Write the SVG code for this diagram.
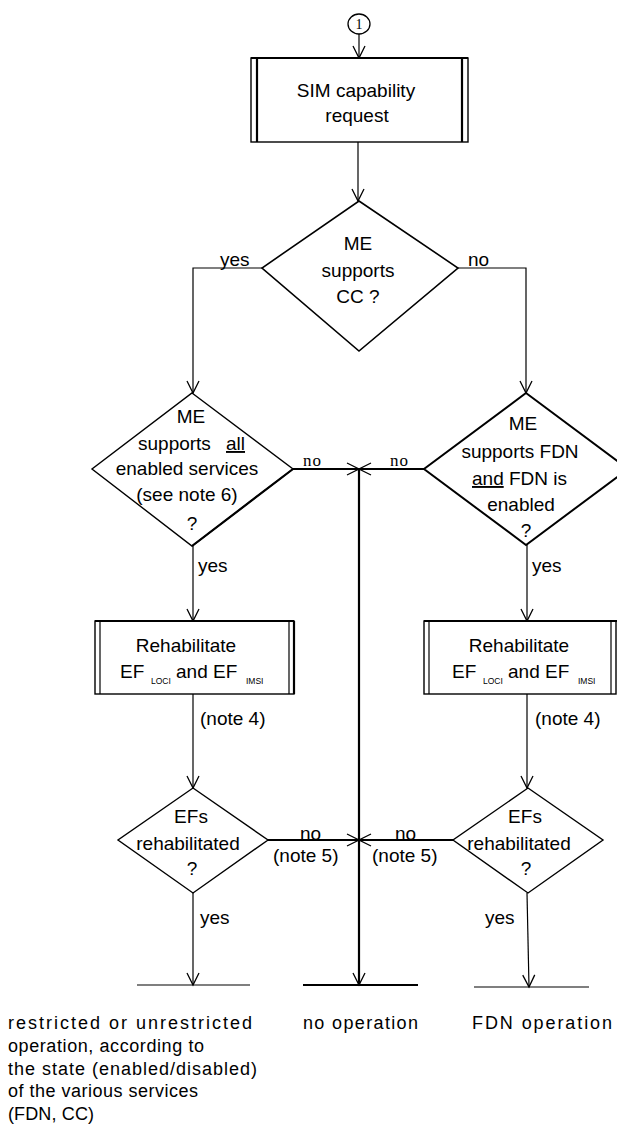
<svg xmlns="http://www.w3.org/2000/svg" width="617" height="1124" viewBox="0 0 617 1124">
<defs>
<style>
.t{font-family:"Liberation Sans",Arial,sans-serif;font-size:19px;fill:#000}
.m{text-anchor:middle}
.s{font-size:8.5px}
.serif{font-family:"Liberation Serif","Times New Roman",serif;font-size:17px;letter-spacing:1px;fill:#000}
.b{font-family:"Liberation Sans",Arial,sans-serif;font-size:18px;fill:#000}
.sh{fill:#fff;stroke:#000;stroke-width:1.4}
.ln{fill:none;stroke:#000;stroke-width:1.2}
.tk{fill:none;stroke:#000;stroke-width:2.2}
.u{text-decoration:underline}
</style>
<marker id="arr" markerWidth="16" markerHeight="16" refX="13" refY="7" orient="auto" markerUnits="userSpaceOnUse">
<path d="M1,1 L13,7 L1,13" fill="none" stroke="#000" stroke-width="1.3"/>
</marker>
</defs>
<rect width="617" height="1124" fill="#fff"/>

<g id="connectors">
<line class="ln" x1="359" y1="34" x2="359" y2="58" marker-end="url(#arr)"/>
<line class="ln" x1="358" y1="142" x2="358" y2="201" marker-end="url(#arr)"/>
<polyline class="ln" points="262,268 193,268 193,393" marker-end="url(#arr)"/>
<polyline class="ln" points="458,268 526,268 526,393" marker-end="url(#arr)"/>
<line class="tk" x1="293" y1="469" x2="359" y2="469" marker-end="url(#arr)"/>
<line class="tk" x1="424" y1="469" x2="359" y2="469" marker-end="url(#arr)"/>
<line class="tk" x1="359" y1="469" x2="359" y2="985" marker-end="url(#arr)"/>
<line class="ln" x1="193" y1="546" x2="193" y2="621" marker-end="url(#arr)"/>
<line class="ln" x1="527" y1="545" x2="527" y2="621" marker-end="url(#arr)"/>
<line class="ln" x1="193" y1="694" x2="193" y2="788" marker-end="url(#arr)"/>
<line class="ln" x1="527" y1="694" x2="527" y2="788" marker-end="url(#arr)"/>
<line class="tk" x1="268" y1="840" x2="359" y2="840" marker-end="url(#arr)"/>
<line class="tk" x1="453" y1="840" x2="359" y2="840" marker-end="url(#arr)"/>
<line class="ln" x1="193" y1="893" x2="193" y2="985" marker-end="url(#arr)"/>
<line class="ln" x1="527" y1="893" x2="529" y2="987" marker-end="url(#arr)"/>
<text class="t" x="220" y="266">yes</text>
<text class="t" x="468" y="266">no</text>
<text class="serif" x="303" y="466">no</text>
<text class="serif" x="390" y="466">no</text>
<text class="t" x="198" y="572">yes</text>
<text class="t" x="532" y="572">yes</text>
<text class="t" x="200" y="725">(note 4)</text>
<text class="t" x="535" y="725">(note 4)</text>
<text class="t" x="300" y="840">no</text>
<text class="t" x="273" y="862">(note 5)</text>
<text class="t" x="395" y="840">no</text>
<text class="t" x="372" y="862">(note 5)</text>
<text class="t" x="200" y="924">yes</text>
<text class="t" x="485" y="924">yes</text>
</g>

<g id="start">
<ellipse cx="359" cy="24" rx="11" ry="10" fill="#fff" stroke="#000" stroke-width="1.3"/>
<text x="359" y="29" text-anchor="middle" font-family="Liberation Serif,serif" font-size="14">1</text>
</g>

<g id="sim-request">
<rect x="251" y="58" width="217" height="84" class="sh"/>
<line class="tk" x1="257" y1="58" x2="257" y2="142"/>
<line class="tk" x1="462" y1="58" x2="462" y2="142"/>
<line class="tk" x1="251" y1="58" x2="468" y2="58"/>
<text class="t m" x="356" y="97">SIM capability</text>
<text class="t m" x="357" y="122">request</text>
</g>

<g id="me-cc">
<polygon class="sh" points="359,201 458,268 359,351 262,268" style="stroke-width:1.6"/>
<text class="t m" x="358" y="250">ME</text>
<text class="t m" x="358" y="277">supports</text>
<text class="t m" x="358" y="303">CC ?</text>
</g>

<g id="me-all">
<polygon class="sh" points="192,393 293,469 192,546 92,469"/>
<line class="tk" x1="293" y1="469" x2="192" y2="546"/>
<text class="t m" x="191" y="423">ME</text>
<text class="t" x="138" y="450">supports</text>
<text class="t u" x="226" y="450">all</text>
<text class="t m" x="187" y="475">enabled services</text>
<text class="t m" x="187" y="501">(see note 6)</text>
<text class="t m" x="192" y="530">?</text>
</g>

<g id="me-fdn">
<polygon class="sh" points="526,393 628,469 526,545 424,469" style="stroke-width:2"/>
<text class="t m" x="523" y="430">ME</text>
<text class="t m" x="520" y="458">supports FDN</text>
<text class="t u" x="472" y="485">and</text>
<text class="t" x="509" y="485">FDN is</text>
<text class="t m" x="521" y="511">enabled</text>
<text class="t m" x="526" y="537">?</text>
</g>

<g id="rehab-left">
<rect x="95" y="621" width="199" height="73" class="sh"/>
<line class="ln" x1="100" y1="621" x2="100" y2="694"/>
<line class="ln" x1="289" y1="621" x2="289" y2="694"/>
<line class="tk" x1="95" y1="621" x2="294" y2="621"/>
<line class="tk" x1="294" y1="621" x2="294" y2="694"/>
<text class="t m" x="186" y="652">Rehabilitate</text>
<text class="t" x="120" y="678">EF</text>
<text class="t s" x="151" y="684">LOCI</text>
<text class="t" x="176" y="678">and EF</text>
<text class="t s" x="246" y="684">IMSI</text>
</g>

<g id="rehab-right">
<rect x="424" y="621" width="192" height="73" class="sh"/>
<line class="ln" x1="429" y1="621" x2="429" y2="694"/>
<line class="ln" x1="611" y1="621" x2="611" y2="694"/>
<line class="tk" x1="424" y1="621" x2="617" y2="621"/>
<text class="t m" x="519" y="652">Rehabilitate</text>
<text class="t" x="452" y="678">EF</text>
<text class="t s" x="483" y="684">LOCI</text>
<text class="t" x="508" y="678">and EF</text>
<text class="t s" x="578" y="684">IMSI</text>
</g>

<g id="efs-left">
<polygon class="sh" points="193,788 268,840 193,893 118,840"/>
<text class="t m" x="191" y="823">EFs</text>
<text class="t m" x="188" y="850">rehabilitated</text>
<text class="t m" x="192" y="875">?</text>
</g>

<g id="efs-right">
<polygon class="sh" points="528,788 603,840 528,893 453,840"/>
<text class="t m" x="525" y="823">EFs</text>
<text class="t m" x="519" y="850">rehabilitated</text>
<text class="t m" x="526" y="875">?</text>
</g>

<g id="out-restricted">
<line class="ln" x1="137" y1="985" x2="250" y2="985"/>
<text class="b" x="8" y="1029" textLength="244" lengthAdjust="spacing">restricted or unrestricted</text>
<text class="b" x="8" y="1052" textLength="196" lengthAdjust="spacing">operation, according to</text>
<text class="b" x="8" y="1075" textLength="249" lengthAdjust="spacing">the state (enabled/disabled)</text>
<text class="b" x="8" y="1097" textLength="190" lengthAdjust="spacing">of the various services</text>
<text class="b" x="8" y="1120" textLength="86" lengthAdjust="spacing">(FDN, CC)</text>
</g>

<g id="out-none">
<line class="tk" x1="303" y1="985" x2="418" y2="985"/>
<text class="b" x="303" y="1029" textLength="115" lengthAdjust="spacing">no operation</text>
</g>

<g id="out-fdn">
<line class="ln" x1="474" y1="987" x2="589" y2="987"/>
<text class="b" x="472" y="1029" textLength="140" lengthAdjust="spacing">FDN operation</text>
</g>
</svg>
